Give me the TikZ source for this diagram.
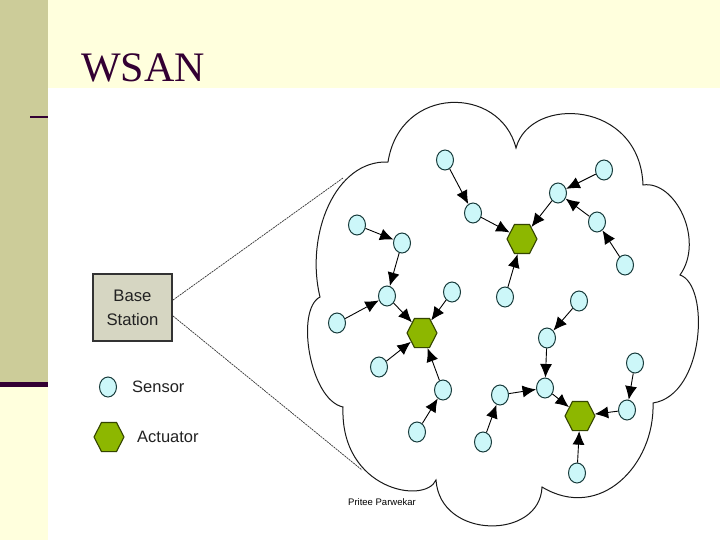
\documentclass[tikz,border=0pt]{standalone}
\usepackage{fontspec}
\setmainfont{Liberation Serif}
\setsansfont{Liberation Sans}
\usetikzlibrary{shapes.geometric,arrows.meta}
\definecolor{bandolive}{HTML}{CCCC99}
\definecolor{bandyellow}{HTML}{FFFFDD}
\definecolor{titlepurple}{HTML}{330033}
\definecolor{sensorfill}{HTML}{CCF7F9}
\definecolor{sensordraw}{HTML}{183C3C}
\definecolor{actfill}{HTML}{8DB700}
\definecolor{actdraw}{HTML}{344500}
\definecolor{boxfill}{HTML}{D6D6C2}
\definecolor{boxdraw}{HTML}{333333}
\definecolor{txtgrey}{HTML}{222222}
\tikzset{
  sensor/.style={ellipse,draw=sensordraw,fill=sensorfill,line width=1pt,
    minimum width=17pt,minimum height=20pt,inner sep=0pt},
  actuator/.style={regular polygon,regular polygon sides=6,draw=actdraw,fill=actfill,
    line width=1.1pt,minimum size=30pt,inner sep=0pt,yscale=1.12},
  arr/.style={line width=0.9pt,black,-{Latex[length=9pt,width=8pt,scale=1.5]}},
  link/.style={line width=0.7pt,draw=black!80,dash pattern=on 2pt off 0.8pt},
  lbl/.style={font=\sffamily\fontsize{16.5}{20}\selectfont,text=txtgrey,anchor=west,inner sep=0pt}}
\begin{document}
\begin{tikzpicture}[x=1pt,y=-1pt]
\useasboundingbox (0,0) rectangle (720,540);
% background
\fill[white] (0,0) rectangle (720,540);
\fill[bandyellow] (48,0) rectangle (720,88);
\fill[bandolive] (0,0) rectangle (48,382);
\fill[titlepurple] (0,382) rectangle (48,387);
\fill[bandyellow] (0,387) rectangle (48,540);
\fill[titlepurple] (30,116) rectangle (48,118.5);
% title
\node[anchor=base west,inner sep=0pt,text=titlepurple,font=\fontsize{42}{50}\selectfont] (title) at (81,82) {WSAN};
% cloud
\coordinate (A) at (388,162);
\coordinate (B) at (516,148);
\coordinate (C) at (643,185);
\coordinate (D) at (680,275);
\coordinate (E) at (653,403);
\coordinate (F) at (542,487);
\coordinate (G) at (436,480);
\coordinate (H) at (343,407);
\coordinate (I) at (320,297);
\draw[line width=1pt,black!90,fill=white] (A)
  .. controls (400,85) and (500,85) .. (B)
  .. controls (530,95) and (640,100) .. (C)
  .. controls (675,180) and (705,240) .. (D)
  .. controls (710,285) and (705,395) .. (E)
  .. controls (655,465) and (600,522) .. (F)
  .. controls (540,540) and (440,540) .. (G)
  .. controls (425,505) and (340,490) .. (H)
  .. controls (310,400) and (295,310) .. (I)
  .. controls (305,235) and (335,160) .. (A) -- cycle;
% base station
\node[draw=boxdraw,fill=boxfill,line width=1.8pt,minimum width=79pt,minimum height=67pt,
  inner sep=0pt,align=center,text=txtgrey,
  font=\sffamily\fontsize{16.7}{24}\selectfont] (bs) at (132.5,307.5) {Base\\Station};
\coordinate (bsu) at (173,300);
\coordinate (bsl) at (173,316);
\coordinate (cu) at (343,178);
\coordinate (cl) at (362,470);
\draw[link] (bsu) -- (cu);
\draw[link] (bsl) -- (cl);
% legend
\node[sensor] (legs) at (108,387) {};
\node[lbl] (legst) at (132,387) {Sensor};
\node[actuator] (lega) at (109,437) {};
\node[lbl] (legat) at (137,437) {Actuator};
% footer
\node[font=\sffamily\fontsize{9.5}{11}\selectfont,inner sep=0pt] (foot) at (382,502) {Pritee Parwekar};
% network nodes
\node[sensor] (s1) at (445,160) {};
\node[sensor] (s2) at (473,213) {};
\node[actuator] (a1) at (522,239) {};
\node[sensor] (s3) at (604,170) {};
\node[sensor] (s4) at (558,193) {};
\node[sensor] (s5) at (597,222) {};
\node[sensor] (s6) at (625,265) {};
\node[sensor] (s7) at (505,297) {};
\node[sensor] (s8) at (357,225) {};
\node[sensor] (s9) at (402,243) {};
\node[sensor] (s10) at (387,296) {};
\node[sensor] (s11) at (452,292) {};
\node[sensor] (s13) at (337,323) {};
\node[actuator] (a2) at (422,333) {};
\node[sensor] (s14) at (379,367) {};
\node[sensor] (s15) at (443,390) {};
\node[sensor] (s16) at (417,432) {};
\node[sensor] (s12) at (579,301) {};
\node[sensor] (s18) at (547,338) {};
\node[sensor] (s19) at (545,388) {};
\node[sensor] (s20) at (500,395) {};
\node[sensor] (s21) at (483,442) {};
\node[actuator] (a3) at (580,416) {};
\node[sensor] (s22) at (635,363) {};
\node[sensor] (s23) at (627,410) {};
\node[sensor] (s24) at (577,473) {};
% arrows
\draw[arr] (s1) -- (s2);
\draw[arr] (s2) -- (a1);
\draw[arr] (s4) -- (a1);
\draw[arr] (s3) -- (s4);
\draw[arr] (s5) -- (s4);
\draw[arr] (s6) -- (s5);
\draw[arr] (s7) -- (a1);
\draw[arr] (s8) -- (s9);
\draw[arr] (s9) -- (s10);
\draw[arr] (s13) -- (s10);
\draw[arr] (s10) -- (a2);
\draw[arr] (s11) -- (a2);
\draw[arr] (s14) -- (a2);
\draw[arr] (s15) -- (a2);
\draw[arr] (s16) -- (s15);
\draw[arr] (s12) -- (s18);
\draw[arr] (s18) -- (s19);
\draw[arr] (s20) -- (s19);
\draw[arr] (s21) -- (s20);
\draw[arr] (s19) -- (a3);
\draw[arr] (s22) -- (s23);
\draw[arr] (s23) -- (a3);
\draw[arr] (s24) -- (a3);
\end{tikzpicture}
\end{document}
